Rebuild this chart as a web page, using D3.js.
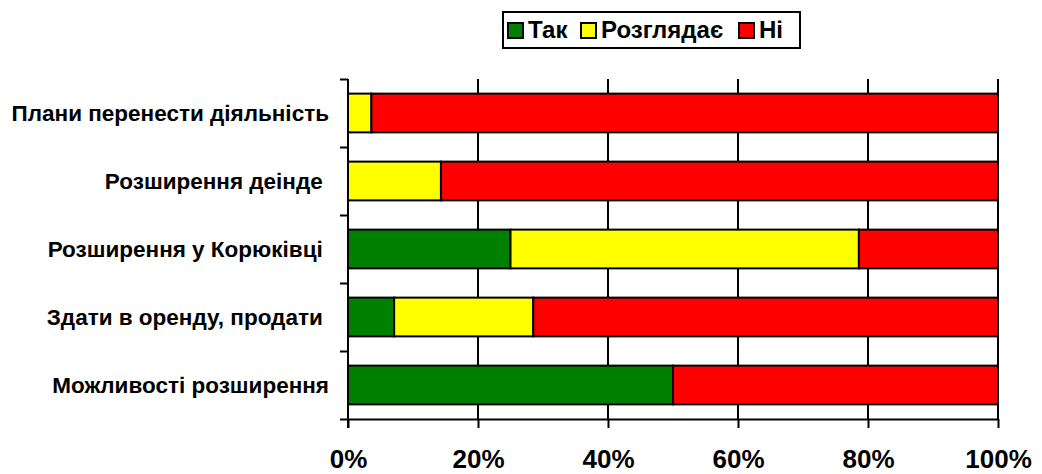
<!DOCTYPE html>
<html>
<head>
<meta charset="utf-8">
<script src="https://cdn.jsdelivr.net/npm/d3@7"></script>
<style>
  body { margin: 0; background: #fff; }
  svg { display: block; font-family: "Liberation Sans", Arial, sans-serif; font-weight: bold; }
</style>
</head>
<body>
<div id="chart"></div>
<script>
// rows, top to bottom
var categories = [
    "Плани перенести діяльність",
    "Розширення деінде ",
    "Розширення у Корюківці ",
    "Здати в оренду, продати ",
    "Можливості розширення"
];
var seriesNames = ["Так", "Розглядає", "Ні"];
var seriesColors = ["#008000", "#ffff00", "#ff0000"];

// shares, %
var tak = [0, 0, 25, 7.1, 50];
var rozglyadaye = [3.6, 14.3, 53.6, 21.4, 0];
var ni = [96.4, 85.7, 21.4, 71.5, 50];

var xTicks = [0, 20, 40, 60, 80, 100];

(function() {
    var width = 1042,
        height = 474,
        plotLeft = 348,
        plotRight = 998,
        plotTop = 79,
        plotBottom = 419;

    var rows = categories.map(function(c, i) {
        return { name: c, "Так": tak[i], "Розглядає": rozglyadaye[i], "Ні": ni[i] };
    });

    var stacked = d3.stack().keys(seriesNames)(rows);

    var x = d3.scaleLinear().domain([0, 100]).range([plotLeft, plotRight]);
    var y = d3.scaleBand().domain(categories).range([plotTop, plotBottom])
        .paddingInner(0.43).paddingOuter(0.215);
    var color = d3.scaleOrdinal().domain(seriesNames).range(seriesColors);

    var svg = d3.select("#chart").append("svg")
        .attr("width", width)
        .attr("height", height);

    // vertical grid lines
    svg.append("g")
        .selectAll("line")
        .data(xTicks.slice(1))
        .enter().append("line")
        .attr("x1", function(d) { return x(d); })
        .attr("x2", function(d) { return x(d); })
        .attr("y1", plotTop)
        .attr("y2", plotBottom)
        .attr("stroke", "#000")
        .attr("stroke-width", 2);

    // bars
    svg.append("g")
        .selectAll("g")
        .data(stacked)
        .enter().append("g")
        .attr("fill", function(d) { return color(d.key); })
        .selectAll("rect")
        .data(function(d) { return d.filter(function(p) { return p[1] - p[0] > 0; }); })
        .enter().append("rect")
        .attr("x", function(d) { return x(d[0]); })
        .attr("y", function(d) { return y(d.data.name); })
        .attr("width", function(d) { return x(d[1]) - x(d[0]); })
        .attr("height", y.bandwidth())
        .attr("stroke", "#000")
        .attr("stroke-width", 2);

    // x axis
    var xAxis = svg.append("g")
        .attr("transform", "translate(0," + plotBottom + ")")
        .call(d3.axisBottom(x).tickValues(xTicks).tickSize(9).tickSizeOuter(0)
            .tickFormat(function(d) { return d + "%"; }));
    xAxis.select(".domain").attr("stroke", "#000").attr("stroke-width", 2);
    xAxis.selectAll(".tick line").attr("stroke", "#000").attr("stroke-width", 2);
    xAxis.selectAll(".tick text")
        .attr("y", 49)
        .attr("dy", 0)
        .attr("fill", "#000")
        .style("font-size", "26px")
        .style("font-weight", "bold")
        .style("font-family", "'Liberation Sans', Arial, sans-serif");

    // y axis with ticks between categories
    var yEdges = d3.scaleLinear().domain([0, categories.length]).range([plotTop, plotBottom]);
    var yAxis = svg.append("g")
        .attr("transform", "translate(" + plotLeft + ",0)")
        .call(d3.axisLeft(yEdges).tickValues(d3.range(categories.length + 1))
            .tickSize(8).tickSizeOuter(0).tickFormat(""));
    yAxis.select(".domain").attr("stroke", "#000").attr("stroke-width", 2)
        .attr("d", "M0," + plotTop + "V" + (plotBottom + 9));
    yAxis.selectAll(".tick line").attr("stroke", "#000").attr("stroke-width", 2);

    // category labels
    svg.append("g")
        .selectAll("text")
        .data(categories)
        .enter().append("text")
        .attr("x", 329)
        .attr("y", function(d) { return y(d) + y.bandwidth() / 2; })
        .attr("dy", "0.35em")
        .attr("text-anchor", "end")
        .style("white-space", "pre")
        .style("font-size", "22.5px")
        .text(function(d) { return d; });

    // legend
    var legend = svg.append("g");
    legend.append("rect")
        .attr("x", 503)
        .attr("y", 12)
        .attr("width", 297)
        .attr("height", 36)
        .attr("fill", "#fff")
        .attr("stroke", "#000")
        .attr("stroke-width", 2);

    var legendX = [508, 581, 739];
    var item = legend.selectAll("g.item")
        .data(seriesNames)
        .enter().append("g")
        .attr("class", "item")
        .attr("transform", function(d, i) { return "translate(" + legendX[i] + ",23)"; });
    item.append("rect")
        .attr("width", 15)
        .attr("height", 15)
        .attr("fill", function(d) { return color(d); })
        .attr("stroke", "#000")
        .attr("stroke-width", 2);
    item.append("text")
        .attr("x", 20)
        .attr("y", 15)
        .style("font-size", "24px")
        .text(function(d) { return d; });
})();
</script>
</body>
</html>
